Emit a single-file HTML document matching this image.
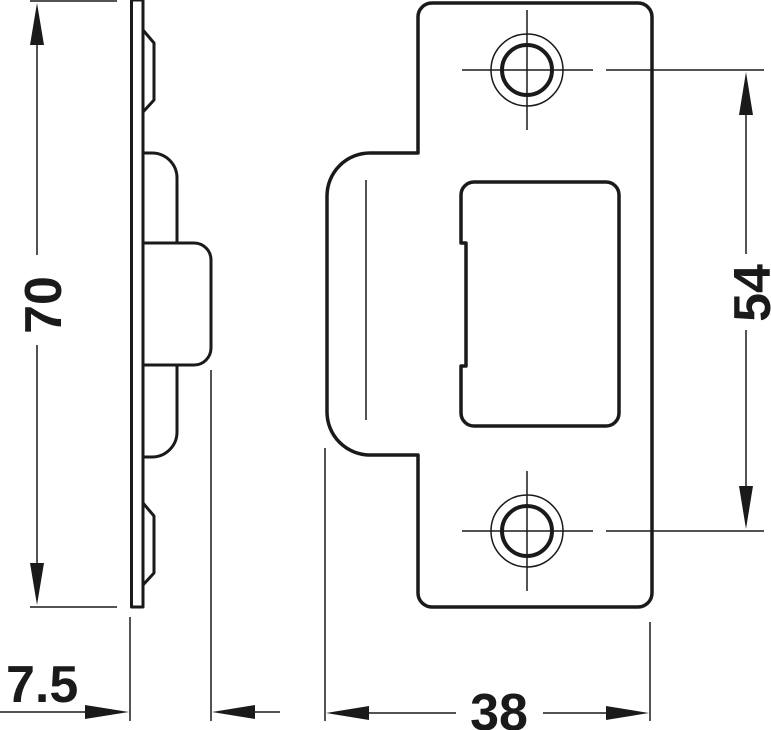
<!DOCTYPE html>
<html><head><meta charset="utf-8"><style>html,body{margin:0;padding:0;background:#fff}svg{display:block}</style></head>
<body>
<svg width="771" height="730" viewBox="0 0 771 730" xmlns="http://www.w3.org/2000/svg">
<g fill="none" stroke="#1a1a1a" stroke-linejoin="round">
<rect x="131.5" y="0" width="11.5" height="607" stroke-width="3"/>
<path d="M143 30 L154 43 L154 100 L143 112" stroke-width="3"/>
<path d="M143 503 L154 516 L154 573 L143 585" stroke-width="3"/>
<path d="M143 153 L152 153 A25 25 0 0 1 177 178 L177 243" stroke-width="3"/>
<path d="M177 365 L177 432 A25 25 0 0 1 152 457 L143 457" stroke-width="3"/>
<path d="M143 243 L194 243 A17 17 0 0 1 211 260 L211 348 A17 17 0 0 1 194 365 L143 365" stroke-width="3"/>
<path d="M418 153 L418 17 A14 14 0 0 1 432 3 L638 3 A14 14 0 0 1 652 17 L652 593 A14 14 0 0 1 638 607 L432 607 A14 14 0 0 1 418 593 L418 455 L370 455 A43 43 0 0 1 327 412 L327 196 A43 43 0 0 1 370 153 Z" stroke-width="3.5"/>
<line x1="366" y1="180" x2="366" y2="420" stroke-width="1.5"/>
<path d="M466 243 L466 366 L461 366 L461 413 A13 13 0 0 0 474 426 L606 426 A13 13 0 0 0 619 413 L619 195 A13 13 0 0 0 606 182 L474 182 A13 13 0 0 0 461 195 L461 243 Z" stroke-width="3.5"/>
<g stroke-width="1.5">
<circle cx="527" cy="70" r="36"/><circle cx="527" cy="531" r="36"/>
<line x1="462" y1="70" x2="593" y2="70"/><line x1="606" y1="70" x2="764" y2="70"/>
<line x1="527" y1="10" x2="527" y2="130"/>
<line x1="462" y1="531" x2="593" y2="531"/><line x1="606" y1="531" x2="764" y2="531"/>
<line x1="527" y1="471" x2="527" y2="591"/>
</g>
<circle cx="527" cy="70" r="25" stroke-width="4"/><circle cx="527" cy="531" r="25" stroke-width="4"/>
<g stroke-width="1.5">
<line x1="30" y1="1" x2="117" y2="1"/><line x1="30" y1="607" x2="117" y2="607"/>
<line x1="37" y1="30" x2="37" y2="255"/><line x1="37" y1="345" x2="37" y2="580"/>
<line x1="746" y1="95" x2="746" y2="254"/><line x1="746" y1="330" x2="746" y2="505"/>
<line x1="130" y1="617" x2="130" y2="721"/><line x1="211" y1="370" x2="211" y2="721"/>
<line x1="325" y1="448" x2="325" y2="721"/><line x1="650" y1="622" x2="650" y2="721"/>
<line x1="0" y1="712" x2="100" y2="712"/><line x1="240" y1="712" x2="280" y2="712"/>
<line x1="340" y1="713" x2="456" y2="713"/><line x1="543" y1="713" x2="635" y2="713"/>
</g>
</g>
<g fill="#1a1a1a">
<polygon points="37,3 30,45 44,45"/><polygon points="37,605 30,563 44,563"/>
<polygon points="746,72 739,115 753,115"/><polygon points="746,529 739,486 753,486"/>
<polygon points="129,712 85,705 85,719"/><polygon points="212,712 255,705 255,719"/>
<polygon points="326,713 369,706 369,720"/><polygon points="649,713 606,706 606,720"/>
</g>
<g font-family="Liberation Sans, Arial, sans-serif" font-weight="bold" fill="#1a1a1a" font-size="52">
<text x="0" y="0" text-anchor="middle" transform="translate(61 305) rotate(-90)">70</text>
<text x="0" y="0" text-anchor="middle" transform="translate(770 293) rotate(-90)">54</text>
<text x="6" y="702">7.5</text>
<text x="499" y="730" text-anchor="middle">38</text>
</g>
</svg>
</body></html>
